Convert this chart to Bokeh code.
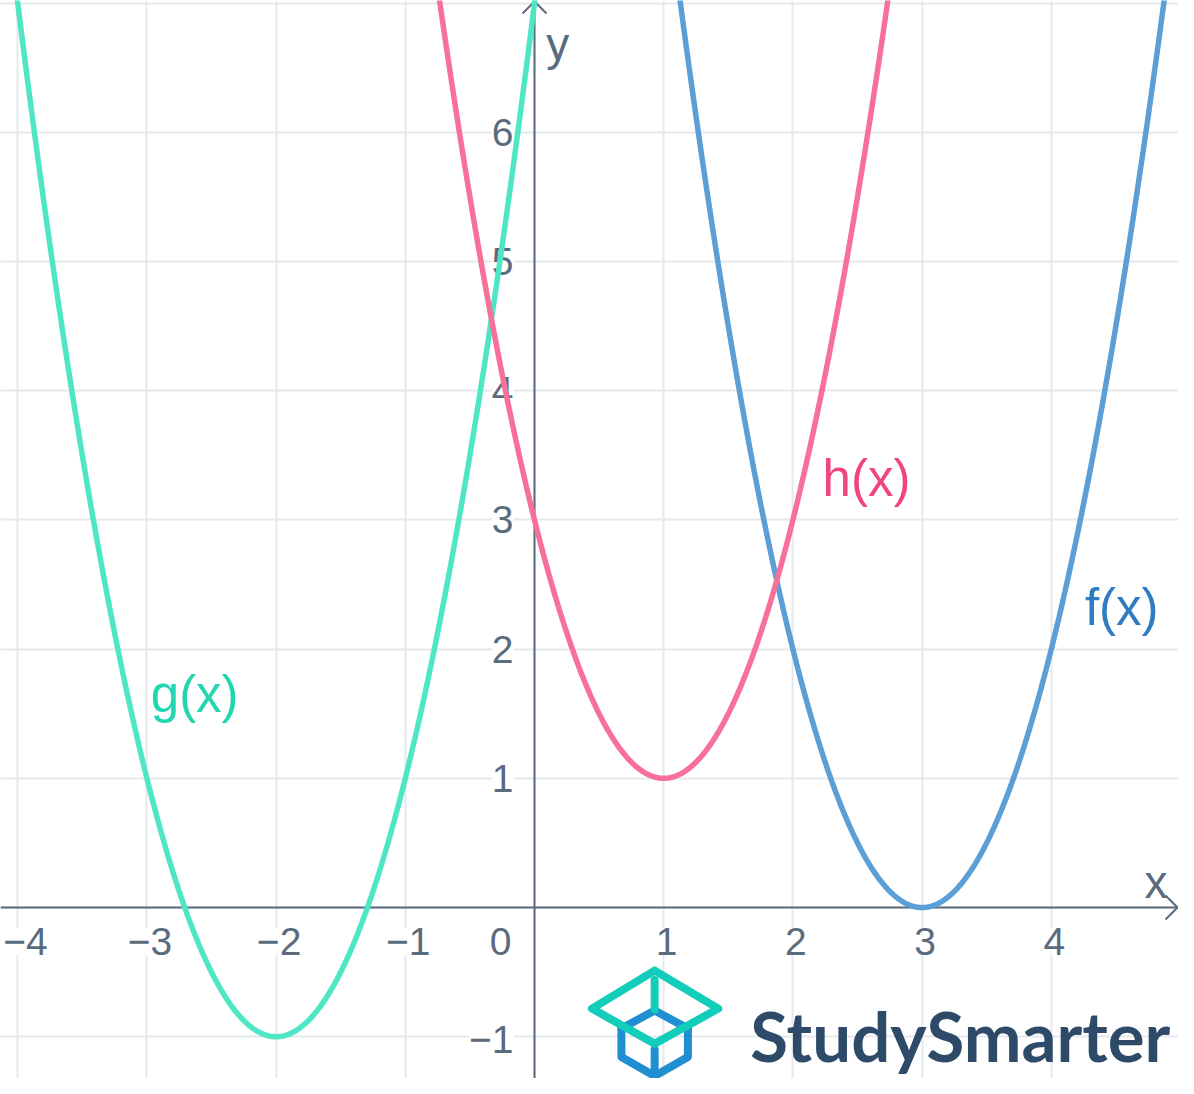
import numpy as np
from bokeh.plotting import figure
from bokeh.models import Range1d, FixedTicker
from bokeh.core.properties import value
from bokeh.embed import file_html
from bokeh.resources import INLINE

# ---- data ----
curve_names = ["f(x)", "g(x)", "h(x)"]
curve_a = [2.0, 2.0, 2.0]            # leading coefficient
curve_vx = [3.0, -2.0, 1.0]          # vertex x
curve_vy = [0.0, -1.0, 1.0]          # vertex y
curve_colors = ["#5b9fd6", "#4fe6c6", "#f7709a"]
label_colors = ["#2d7cc1", "#22d6b2", "#f0457e"]
label_x = [4.26, -2.97, 2.23]
label_y = [2.32, 1.65, 3.32]

x_ticks = [-4, -3, -2, -1, 1, 2, 3, 4]
x_tick_labels = ["\u22124", "\u22123", "\u22122", "\u22121", "1", "2", "3", "4"]
y_ticks = [-1, 1, 2, 3, 4, 5, 6]
y_tick_labels = ["\u22121", "1", "2", "3", "4", "5", "6"]

W, H = 1178, 1078
PX = 129.2                      # pixels per unit
X0, Y0 = 534, 907               # pixel position of origin inside the plot
xr = Range1d(-X0 / PX, (W - X0) / PX)
yr = Range1d(-(H - Y0) / PX, Y0 / PX)

p = figure(width=W, height=H, x_range=xr, y_range=yr, output_backend="svg",
           toolbar_location=None, min_border=0, outline_line_color=None,
           background_fill_color="white", border_fill_color="white")
p.xaxis.visible = False
p.yaxis.visible = False
p.xgrid.ticker = FixedTicker(ticks=list(range(-5, 7)))
p.ygrid.ticker = FixedTicker(ticks=list(range(-2, 8)))
for g in (p.xgrid, p.ygrid):
    g.grid_line_color = "#e5e8ec"
    g.grid_line_width = 2

AX = "#5b6b7e"
u = 1.0 / PX

# axes
p.segment(x0=[xr.start, 0], y0=[0, yr.start], x1=[xr.end, 0], y1=[0, yr.end],
          line_color=AX, line_width=2)
# arrow heads
p.line([xr.end - 13 * u, xr.end - 1 * u, xr.end - 13 * u], [12 * u, 0, -12 * u],
       line_color=AX, line_width=2)
p.line([-12 * u, 0, 12 * u], [yr.end - 13 * u, yr.end - 1 * u, yr.end - 13 * u],
       line_color=AX, line_width=2)

TF = value("Liberation Sans")
# tick labels (keep the leftmost one inside the frame)
tick_x = [max(t + 3 * u, xr.start + 25 * u) for t in x_ticks]
p.text(x=tick_x, y=[-34 * u] * len(x_ticks), text=x_tick_labels,
       text_font=TF, text_font_size="39px", text_color=AX, text_align="center",
       text_baseline="middle", background_fill_color="white")
p.text(x=[-23 * u], y=[-34 * u], text=["0"], text_font=TF, text_font_size="39px",
       text_color=AX, text_align="right", text_baseline="middle")
p.text(x=[-21 * u] * len(y_ticks), y=[t - (3 * u if t < 0 else 0) for t in y_ticks],
       text=y_tick_labels, text_font=TF, text_font_size="39px", text_color=AX,
       text_align="right", text_baseline="middle", background_fill_color="white")
# axis letters
p.text(x=[4.81, 0.18], y=[0.2, 6.68], text=["x", "y"], text_font=TF, text_font_size="46px",
       text_color=AX, text_align="center", text_baseline="middle")

# curves
xs = np.linspace(xr.start, xr.end, 800)
for a, vx, vy, c in zip(curve_a, curve_vx, curve_vy, curve_colors):
    p.line(xs, a * (xs - vx) ** 2 + vy, line_color=c, line_width=5.5)

# curve labels
for n, lx, ly, lc in zip(curve_names, label_x, label_y, label_colors):
    p.text(x=[lx], y=[ly], text=[n], text_font=TF, text_font_size="51px",
           text_color=lc, text_align="left", text_baseline="middle")

# StudySmarter logo (decoration)
cx, cy = 0.93, -0.90
s = 0.95
def pts(lst):
    return [cx + s * dx * u for dx, dy in lst], [cy - s * dy * u for dx, dy in lst]
teal_parts = [
    [(0, -56), (-66, -16), (0, 21), (67, -16), (0, -56)],
    [(0, -46), (0, -15)],
]
blue_parts = [
    [(-35, 5), (0, -14), (35, 5)],
    [(-35, 5), (-35, 35), (0, 55), (35, 35), (35, 5)],
    [(0, 27), (0, 55)],
]
for part in blue_parts:
    xx, yy = pts(part)
    p.line(xx, yy, line_color="#1f8fd2", line_width=8, line_join="round", line_cap="round")
for part in teal_parts:
    xx, yy = pts(part)
    p.line(xx, yy, line_color="#12cdb9", line_width=8, line_join="round", line_cap="round")

p.text(x=[1.67], y=[-0.99], text=["StudySmarter"], text_font=value("Lato"),
       text_font_size="69px", text_font_style="bold", text_color="#2d4a68",
       text_align="left", text_baseline="middle")

open("out.html", "w").write(file_html(p, INLINE))
